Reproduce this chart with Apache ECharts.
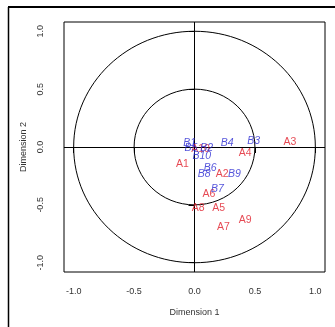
<!DOCTYPE html>
<html>
<head>
<meta charset="utf-8">
<script src="https://cdn.jsdelivr.net/npm/echarts@6/dist/echarts.min.js"></script>
<style>
  html, body { margin: 0; padding: 0; background: #fff; }
  #chart { width: 335px; height: 327px; }
</style>
</head>
<body>
<div id="chart"></div>
<script>
// group A (red) and group B (blue) coordinates
const A_LABELS = ["A1", "A2", "A3", "A4", "A5", "A6", "A7", "A8", "A9", "A10"];
const A_X = [-0.10, 0.23, 0.79, 0.42, 0.20, 0.12, 0.24, 0.03, 0.42, 0.05];
const A_Y = [-0.15, -0.23, 0.04, -0.05, -0.53, -0.41, -0.69, -0.53, -0.63, -0.02];

const B_LABELS = ["B1", "B2", "B3", "B4", "B5", "B6", "B7", "B8", "B9", "B10"];
const B_X = [-0.04, 0.10, 0.49, 0.27, -0.03, 0.13, 0.19, 0.08, 0.33, 0.06];
const B_Y = [0.03, -0.01, 0.05, 0.03, -0.01, -0.18, -0.36, -0.23, -0.23, -0.08];

const TICKS = [-1, -0.5, 0, 0.5, 1];
const RADII = [1, 0.5];

const FONT = "Liberation Sans, Arial, sans-serif";

function toPoints(labels, xs, ys) {
  return labels.map((name, i) => ({ name, value: [xs[i], ys[i]] }));
}

function labelSeries(name, data, color, italic) {
  return {
    name,
    type: "scatter",
    data,
    symbolSize: 1,
    itemStyle: { color: "rgba(0,0,0,0)" },
    label: {
      show: true,
      position: "inside",
      formatter: (p) => p.name,
      color,
      fontSize: 10.5,
      fontStyle: italic ? "italic" : "normal",
      fontFamily: FONT,
    },
    labelLayout: { hideOverlap: false },
    z: 5,
  };
}

const axisCommon = (name) => ({
  type: "value",
  min: -1.08,
  max: 1.08,
  name,
  nameLocation: "middle",
  nameTextStyle: { color: "#333", fontSize: 9, fontFamily: FONT },
  axisLine: { show: false },
  splitLine: { show: false },
  axisTick: {
    show: true,
    length: 6,
    customValues: TICKS,
    lineStyle: { color: "#000" },
  },
});

const chart = echarts.init(document.getElementById("chart"));

chart.setOption({
  backgroundColor: "#fff",
  animation: false,
  grid: {
    left: 64,
    right: 10,
    top: 22,
    bottom: 55,
    show: true,
    borderColor: "#000",
    borderWidth: 1,
  },
  xAxis: {
    ...axisCommon("Dimension 1"),
    nameGap: 36,
    axisLabel: {
      customValues: TICKS,
      margin: 15,
      color: "#333",
      fontSize: 9,
      fontFamily: FONT,
      formatter: (v) => v.toFixed(1),
    },
  },
  yAxis: {
    ...axisCommon("Dimension 2"),
    nameGap: 31,
    axisLabel: {
      customValues: TICKS,
      rotate: 90,
      margin: 19,
      color: "#333",
      fontSize: 9,
      fontFamily: FONT,
      formatter: (v) => v.toFixed(1),
    },
  },
  graphic: [
    {
      type: "line",
      shape: { x1: 8, y1: 7, x2: 335, y2: 7 },
      style: { stroke: "#000", lineWidth: 2 },
    },
    {
      type: "line",
      shape: { x1: 8.5, y1: 7, x2: 8.5, y2: 327 },
      style: { stroke: "#000", lineWidth: 1.5 },
    },
  ],
  series: [
    {
      type: "custom",
      data: RADII.map((r) => [0, 0, r]),
      encode: { x: 0, y: 1 },
      renderItem: (params, api) => {
        const c = api.coord([api.value(0), api.value(1)]);
        const s = api.size([api.value(2), api.value(2)]);
        return {
          type: "ellipse",
          shape: { cx: c[0], cy: c[1], rx: s[0], ry: s[1] },
          style: { fill: "none", stroke: "#000", lineWidth: 1 },
        };
      },
      markLine: {
        silent: true,
        symbol: "none",
        label: { show: false },
        lineStyle: { color: "#000", type: "solid", width: 1 },
        data: [{ xAxis: 0 }, { yAxis: 0 }],
      },
      z: 2,
    },
    labelSeries("A", toPoints(A_LABELS, A_X, A_Y), "#e01c28", false),
    labelSeries("B", toPoints(B_LABELS, B_X, B_Y), "#2a2ad2", true),
  ],
});
</script>
</body>
</html>
